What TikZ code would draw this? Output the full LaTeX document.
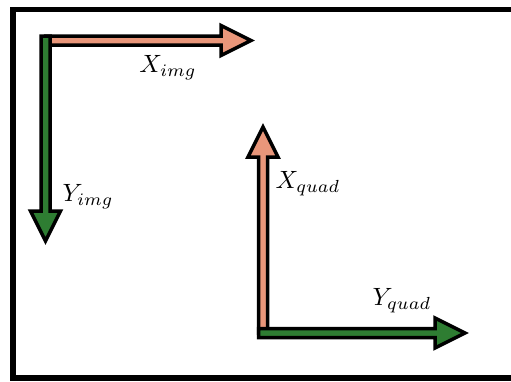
\documentclass[tikz,border=0pt]{standalone}
\usepackage{amsmath}
\usetikzlibrary{calc,positioning}
\definecolor{axisx}{RGB}{233,150,122}
\definecolor{axisy}{RGB}{46,125,50}
% fat arrow from #1 to #2, filled with #3
\newcommand{\blockarrow}[3]{%
  \coordinate (#1-hb) at ($(#2)!12pt!(#1)$);
  \draw[arrowbody,fill=#3]
    ($(#1)!1.8pt!90:(#2)$) -- ($(#1-hb)!1.8pt!-90:(#1)$)
    -- ($(#1-hb)!6pt!-90:(#1)$) -- (#2)
    -- ($(#1-hb)!6pt!90:(#1)$) -- ($(#1-hb)!1.8pt!90:(#1)$)
    -- ($(#1)!1.8pt!-90:(#2)$) -- cycle;}

\begin{document}
\begin{tikzpicture}[
  x=0.4pt,y=-0.4pt,
  frame/.style={draw=black,line width=2.2pt},
  arrowbody/.style={draw=black,line width=1.4pt,line join=miter},
  axislabel/.style={font=\normalsize,inner sep=1pt}
]
\useasboundingbox (0,0) rectangle (511,381);
\draw[frame] (13,9.5) rectangle (530,378);

% image frame
\coordinate (imgO) at (45.5,40.5);
\coordinate (imgYs) at (45.5,36);
\coordinate (imgX) at (251,40.5);
\coordinate (imgY) at (45.5,241);
\blockarrow{imgO}{imgX}{axisx}
\blockarrow{imgYs}{imgY}{axisy}
\node[axislabel] (ximg) at (168,68) {$X_{img}$};
\node[axislabel] (yimg) at (88,197) {$Y_{img}$};

% quad frame
\coordinate (quadO) at (263,333);
\coordinate (quadYs) at (258.5,333);
\coordinate (quadX) at (263,127);
\coordinate (quadY) at (465,333);
\blockarrow{quadO}{quadX}{axisx}
\blockarrow{quadYs}{quadY}{axisy}
\node[axislabel] (xquad) at (308,184) {$X_{quad}$};
\node[axislabel] (yquad) at (402,301) {$Y_{quad}$};
\end{tikzpicture}
\end{document}
